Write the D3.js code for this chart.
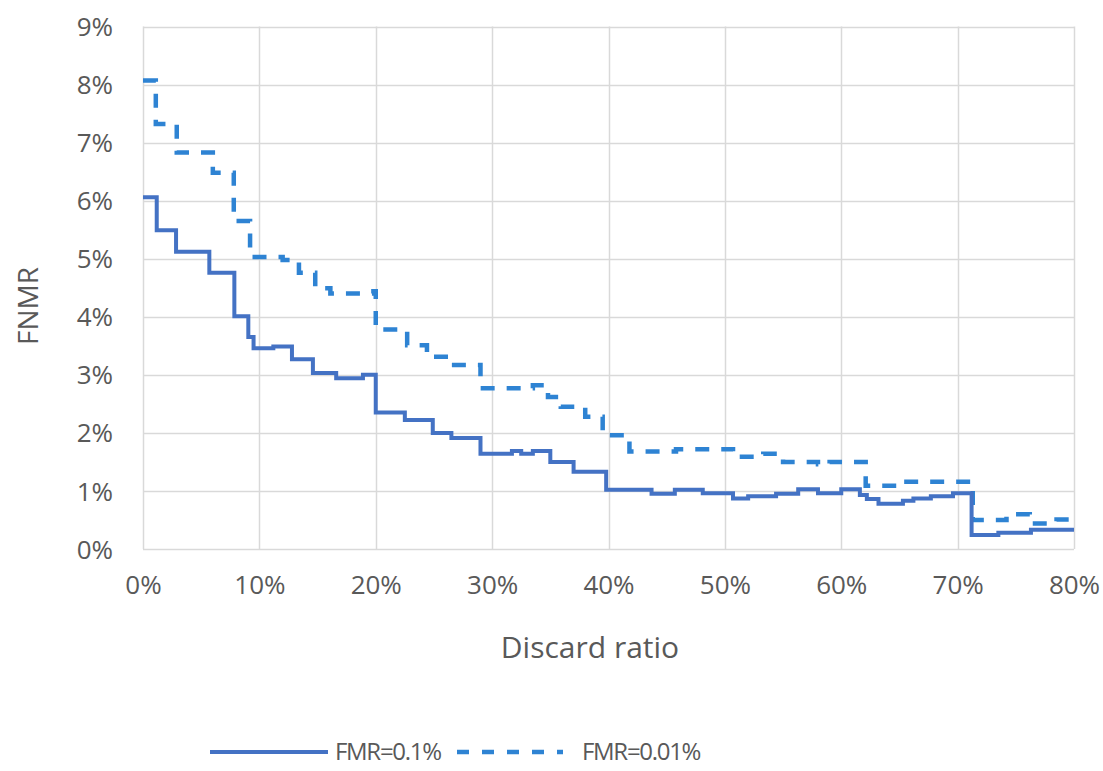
<!DOCTYPE html>
<html>
<head>
<meta charset="utf-8">
<script src="https://cdn.jsdelivr.net/npm/d3@7"></script>
<style>
  html, body { margin: 0; padding: 0; background: #fff; }
  svg { display: block; }
  text { font-family: "Open Sans", "Lato", sans-serif; fill: #595959; }
</style>
</head>
<body>
<svg id="chart" width="1103" height="771"></svg>
<script>
// ---- data (percent values) ----
const xTicks = [0, 10, 20, 30, 40, 50, 60, 70, 80];
const yTicks = [0, 1, 2, 3, 4, 5, 6, 7, 8, 9];
const seriesNames = ["FMR=0.1%", "FMR=0.01%"];

// step points: [discard ratio %, FNMR %]; each value holds until the next point
const fmr01 = [
  [0, 6.06], [1.18, 5.49], [2.84, 5.12], [5.7, 4.76], [7.85, 4.01], [9.05, 3.65],
  [9.5, 3.46], [11.2, 3.49], [12.8, 3.27], [14.6, 3.03], [16.6, 2.94], [18.9, 3.00],
  [20.0, 2.35], [22.5, 2.22], [24.9, 2.00], [26.5, 1.91], [29.0, 1.64], [31.7, 1.69],
  [32.5, 1.64], [33.5, 1.69], [35.0, 1.50], [37.0, 1.33], [39.8, 1.02], [43.7, 0.95],
  [45.7, 1.02], [48.1, 0.96], [50.7, 0.87], [52.0, 0.91], [54.4, 0.95], [56.3, 1.03],
  [58.0, 0.96], [60.0, 1.03], [61.6, 0.93], [62.2, 0.86], [63.2, 0.78], [65.3, 0.83],
  [66.2, 0.87], [67.7, 0.91], [69.6, 0.96], [71.2, 0.24], [73.5, 0.28], [76.3, 0.33],
  [80, 0.33]
];
const fmr001 = [
  [0, 8.07], [1.1, 7.32], [2.9, 6.83], [6.0, 6.48], [7.8, 5.65], [9.2, 5.03],
  [12.0, 4.98], [13.4, 4.76], [14.8, 4.49], [16.1, 4.40], [19.8, 4.44], [20.0, 3.78],
  [22.7, 3.51], [24.4, 3.31], [26.4, 3.17], [29.0, 2.77], [33.5, 2.82], [34.8, 2.62],
  [35.9, 2.45], [38.0, 2.28], [39.5, 1.96], [41.8, 1.68], [45.8, 1.72], [50.7, 1.59],
  [53.3, 1.64], [55.0, 1.50], [58.0, 1.46], [59.0, 1.50], [62.1, 1.09], [65.6, 1.16],
  [71.3, 0.50], [74.2, 0.60], [76.2, 0.44], [78.5, 0.51], [80, 0.51]
];

// ---- layout ----
const svg = d3.select("#chart");
const plot = { left: 143, right: 1074, top: 26.5, bottom: 549 };
const x = d3.scaleLinear().domain([0, 80]).range([plot.left, plot.right]);
const y = d3.scaleLinear().domain([0, 9]).range([plot.bottom, plot.top]);
const gridColor = "#d9d9d9";
const solidColor = "#4472C4";
const dashColor = "#2E83D3";

// gridlines
const g = svg.append("g");
g.selectAll(".hg").data(yTicks).enter().append("line")
  .attr("x1", plot.left).attr("x2", plot.right)
  .attr("y1", d => Math.round(y(d)) + 0.5).attr("y2", d => Math.round(y(d)) + 0.5)
  .attr("stroke", gridColor).attr("stroke-width", 1.5);
g.selectAll(".vg").data(xTicks).enter().append("line")
  .attr("y1", plot.top).attr("y2", plot.bottom)
  .attr("x1", d => Math.round(x(d)) + 0.5).attr("x2", d => Math.round(x(d)) + 0.5)
  .attr("stroke", gridColor).attr("stroke-width", 1.5);

// axes (labels only)
const xAxis = d3.axisBottom(x).tickValues(xTicks).tickFormat(d => d + "%").tickSize(0).tickPadding(0);
const xa = svg.append("g").attr("transform", `translate(0,${plot.bottom})`).call(xAxis);
xa.select(".domain").remove();
xa.selectAll("text").attr("y", 36).attr("dy", "0.35em")
  .style("font-size", "26px").style("font-family", '"Open Sans", sans-serif').attr("fill", "#595959");

const yAxis = d3.axisLeft(y).tickValues(yTicks).tickFormat(d => d + "%").tickSize(0).tickPadding(0);
const ya = svg.append("g").attr("transform", `translate(${plot.left - 30},0)`).call(yAxis);
ya.select(".domain").remove();
ya.selectAll("text").attr("x", 0).attr("dy", "0.35em")
  .style("font-size", "26px").style("font-family", '"Open Sans", sans-serif').attr("fill", "#595959");

// axis titles
svg.append("text").attr("x", 590).attr("y", 647).attr("dy", "0.35em")
  .attr("text-anchor", "middle").style("font-size", "30px").text("Discard ratio");
svg.append("text").attr("transform", "translate(28,306) rotate(-90)").attr("dy", "0.35em")
  .attr("text-anchor", "middle").style("font-size", "28px").text("FNMR");

// lines
const line = d3.line().x(d => x(d[0])).y(d => y(d[1])).curve(d3.curveStepAfter);
svg.append("path").datum(fmr001).attr("d", line)
  .attr("fill", "none").attr("stroke", dashColor).attr("stroke-width", 4.5)
  .attr("stroke-dasharray", "14,12");
svg.append("path").datum(fmr01).attr("d", line)
  .attr("fill", "none").attr("stroke", solidColor).attr("stroke-width", 4);

// legend
const ly = 752;
const leg = svg.append("g");
leg.append("line").attr("x1", 210).attr("x2", 328).attr("y1", ly).attr("y2", ly)
  .attr("stroke", solidColor).attr("stroke-width", 4);
leg.append("text").attr("x", 335).attr("y", ly).attr("dy", "0.35em")
  .style("font-size", "24px").style("letter-spacing", "-1.3px").text(seriesNames[0]);
leg.append("line").attr("x1", 457).attr("x2", 563).attr("y1", ly).attr("y2", ly)
  .attr("stroke", dashColor).attr("stroke-width", 4.5).attr("stroke-dasharray", "12,13");
leg.append("text").attr("x", 582).attr("y", ly).attr("dy", "0.35em")
  .style("font-size", "24px").style("letter-spacing", "-1.3px").text(seriesNames[1]);
</script>
</body>
</html>
